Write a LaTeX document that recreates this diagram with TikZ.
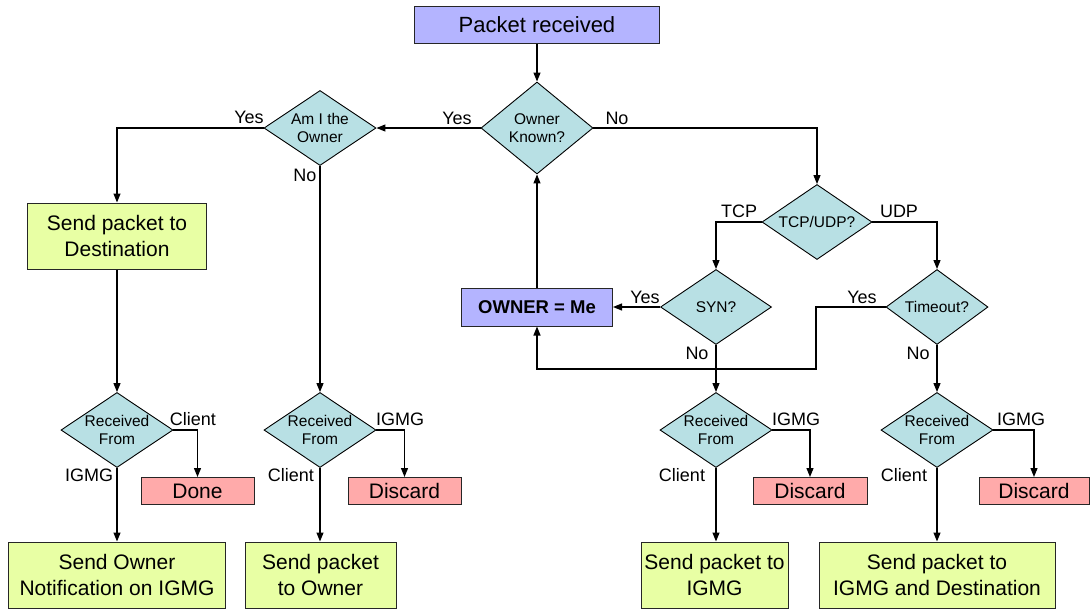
\documentclass[tikz,border=0pt]{standalone}
\usepackage{fontspec}
\setmainfont{Liberation Sans}
\usetikzlibrary{arrows.meta,shapes.geometric}
\definecolor{bluefill}{RGB}{180,180,255}
\definecolor{diafill}{RGB}{184,224,228}
\definecolor{greenfill}{RGB}{232,255,164}
\definecolor{redfill}{RGB}{255,170,170}
\begin{document}
\begin{tikzpicture}[x=1pt,y=-1pt,
  box/.style={draw=black!85, line width=1pt, inner sep=0pt, align=center, font=\fontsize{21}{26.5}\selectfont},
  bbox/.style={box, fill=bluefill},
  gbox/.style={box, fill=greenfill},
  rbox/.style={box, fill=redfill, minimum height=27pt},
  dia/.style={diamond, draw=black, line width=0.9pt, fill=diafill, inner sep=0pt, aspect=1, minimum height=75pt, minimum width=112pt},
  dtext/.style={align=center, font=\fontsize{15.5}{18}\selectfont, inner sep=0pt},
  lbl/.style={font=\fontsize{18}{20}\selectfont, inner sep=0pt, anchor=base},
  arr/.style={-{Triangle[length=9pt,width=7pt]}, line width=1.2pt}
]
\useasboundingbox (0,0) rectangle (1090,611);

% boxes
\node[bbox, minimum width=245pt, minimum height=37pt, font=\fontsize{22}{26}\selectfont] (pr) at (537,25) {Packet received};
\node[bbox, minimum width=151pt, minimum height=38pt, font=\fontsize{18.5}{22}\selectfont\bfseries] (me) at (537,307) {OWNER = Me};
\node[gbox, minimum width=179pt, minimum height=66pt] (dest) at (117,236) {Send packet to\\Destination};
\node[rbox, minimum width=113pt] (done) at (197.5,491) {Done};
\node[rbox, minimum width=113pt] (disc2) at (404.5,491) {Discard};
\node[rbox, minimum width=114pt] (disc3) at (810,491) {Discard};
\node[rbox, minimum width=110pt] (disc4) at (1034,491) {Discard};
\node[gbox, minimum width=217pt, minimum height=66pt] (b1) at (117,575) {Send Owner\\Notification on IGMG};
\node[gbox, minimum width=151pt, minimum height=66pt] (b2) at (320.5,575) {Send packet\\to Owner};
\node[gbox, minimum width=147pt, minimum height=66pt] (b3) at (714.5,575) {Send packet to\\IGMG};
\node[gbox, minimum width=236pt, minimum height=66pt] (b4) at (937,575) {Send packet to\\IGMG and Destination};

% diamonds
\node[dia, minimum height=92pt, label={[dtext]center:Owner\\Known?}] (ok) at (537,128) {};
\node[dia, label={[dtext]center:Am I the\\Owner}] (ami) at (320,128) {};
\node[dia, minimum width=110pt, label={[dtext]center:TCP/UDP?}] (tu) at (817,222) {};
\node[dia, minimum width=111pt, label={[dtext]center:SYN?}] (syn) at (716,307) {};
\node[dia, minimum width=102pt, label={[dtext]center:Timeout?}] (to) at (937,307) {};
\node[dia, label={[dtext]center:Received\\From}] (d1) at (117,430) {};
\node[dia, label={[dtext]center:Received\\From}] (d2) at (320,430) {};
\node[dia, label={[dtext]center:Received\\From}] (d3) at (716,430) {};
\node[dia, label={[dtext]center:Received\\From}] (d4) at (937,430) {};

% connectors
\draw[arr] (pr.south) -- (pr.south |- ok.north);
\draw[arr] (ok.west) -- (ami.east);
\draw[arr] (ok.east) -| (tu.north);
\draw[arr] (ami.west) -| (dest.north);
\draw[arr] (ami.south) -- (ami.south |- d2.north);
\draw[arr] (tu.west) -| (syn.north);
\draw[arr] (tu.east) -| (to.north);
\draw[arr] (syn.west) -- (me.east);
\draw[arr] (me.north) -- (ok.south);
\coordinate (bend) at (816,369);
\draw[arr] (to.west) -| (bend) -| (me.south);
\draw[arr] (syn.south) -- (syn.south |- d3.north);
\draw[arr] (to.south) -- (to.south |- d4.north);
\draw[arr] (dest.south) -- (dest.south |- d1.north);

\draw[arr] (d1.east) -| (done.north);
\draw[arr] (d1.south) -- (d1.south |- b1.north);
\draw[arr] (d2.east) -| (disc2.north);
\draw[arr] (d2.south) -- (d2.south |- b2.north);
\draw[arr] (d3.east) -| (disc3.north);
\draw[arr] (d3.south) -- (d3.south |- b3.north);
\draw[arr] (d4.east) -| (disc4.north);
\draw[arr] (d4.south) -- (d4.south |- b4.north);

% labels
\node[lbl] (l1) at (457,124) {Yes};
\node[lbl] (l2) at (617,124) {No};
\node[lbl] (l3) at (249,123) {Yes};
\node[lbl] (l4) at (305,181) {No};
\node[lbl] (l5) at (739,217) {TCP};
\node[lbl] (l6) at (899,217) {UDP};
\node[lbl] (l7) at (645,303) {Yes};
\node[lbl] (l8) at (697,359) {No};
\node[lbl] (l9) at (862,303) {Yes};
\node[lbl] (l10) at (918,359) {No};
\node[lbl] (l11) at (193,425) {Client};
\node[lbl] (l12) at (89,481) {IGMG};
\node[lbl] (l13) at (400,425) {IGMG};
\node[lbl] (l14) at (291,481) {Client};
\node[lbl] (l15) at (796,425) {IGMG};
\node[lbl] (l16) at (682,481) {Client};
\node[lbl] (l17) at (1021,425) {IGMG};
\node[lbl] (l18) at (904,481) {Client};
\end{tikzpicture}
\end{document}
